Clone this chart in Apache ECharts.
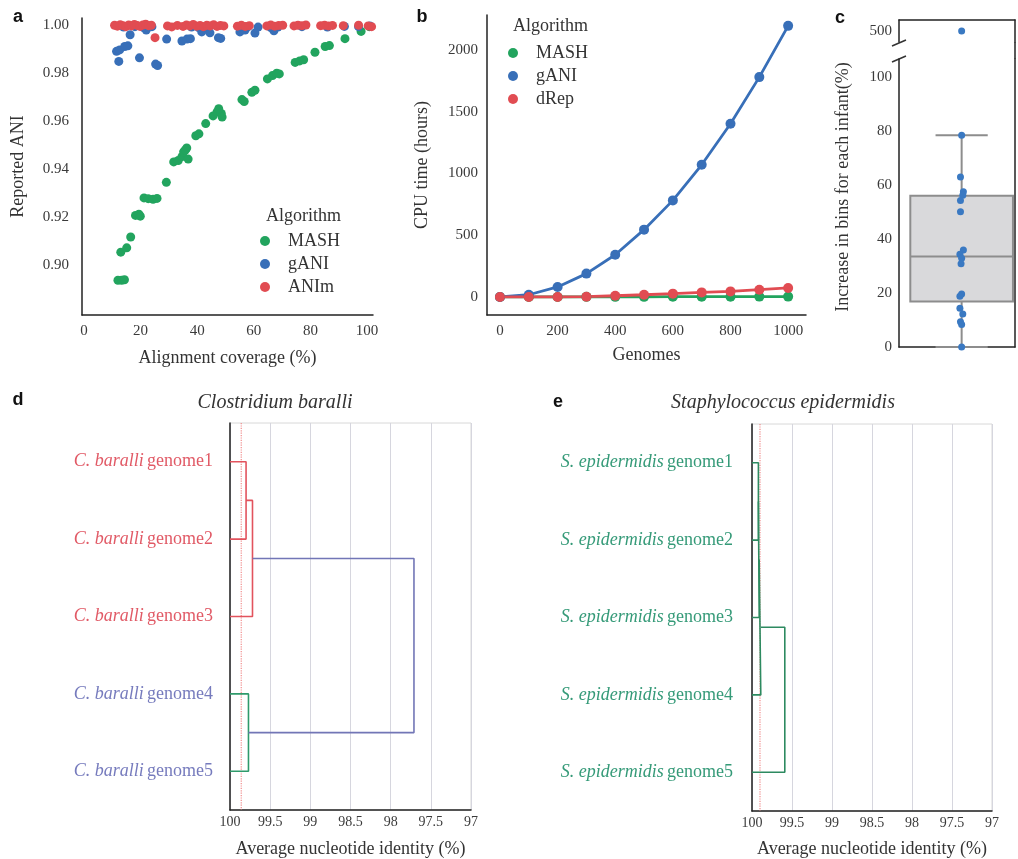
<!DOCTYPE html>
<html>
<head>
<meta charset="utf-8">
<script src="https://cdn.jsdelivr.net/npm/echarts@6/dist/echarts.min.js"></script>
<style>
  html, body { margin: 0; background: #fff; }
  #main { width: 1018px; height: 859px; }
</style>
</head>
<body>
<div id="main"></div>
<script>
// a: reported ANI vs alignment coverage
var mashCov = [12.0, 13.3, 14.3, 13.0, 15.1, 16.5, 18.2, 19.4, 19.9, 21.2, 22.7, 24.4, 25.8, 29.1,
  31.7, 33.3, 34.6, 35.2, 36.3, 36.8, 35.8, 39.5, 40.6, 43.0, 45.6, 47.0, 48.5, 47.6, 48.8,
  55.8, 56.6, 59.3, 60.4, 64.8, 66.6, 68.1, 69.0, 74.6, 76.2, 77.6, 81.6, 85.2, 86.7, 92.2, 97.9, 100.8];
var mashAni = [0.8935, 0.8935, 0.8937, 0.9052, 0.9070, 0.9115, 0.9205, 0.9210, 0.9202, 0.9278, 0.9275, 0.9272, 0.9276, 0.9343,
  0.9428, 0.9434, 0.9450, 0.9470, 0.9486, 0.9440, 0.9478, 0.9537, 0.9545, 0.9588, 0.9620, 0.9636, 0.9630, 0.9650, 0.9615,
  0.9688, 0.9680, 0.9718, 0.9727, 0.9774, 0.9788, 0.9798, 0.9795, 0.9843, 0.9849, 0.9854, 0.9885, 0.9909, 0.9913, 0.9942, 0.9972, 0.9992];
var ganiCov = [11.5, 12.6, 14.4, 15.5, 12.3, 16.3, 19.6, 25.3, 26.0, 22.0, 29.2, 34.6, 36.4, 37.6, 41.6, 44.5, 47.5, 48.3,
  55.1, 56.9, 60.4, 67.1, 14.0, 18.0, 21.0, 24.0, 38.0, 40.5, 43.0, 58.0, 61.5, 66.0, 68.5, 77.0, 86.0, 92.0, 97.0, 101.0];
var ganiAni = [0.9889, 0.9895, 0.9909, 0.9912, 0.9847, 0.9958, 0.9862, 0.9836, 0.9830, 0.9978, 0.9940, 0.9932, 0.9940, 0.9942,
  0.9970, 0.9966, 0.9946, 0.9943, 0.9970, 0.9978, 0.9965, 0.9975, 0.9990, 0.9992, 0.9988, 0.9992, 0.9990, 0.9988, 0.9990,
  0.9992, 0.9990, 0.9988, 0.9990, 0.9992, 0.9990, 0.9993, 0.9992, 0.9995];
var animCov = [10.8, 11.8, 12.8, 13.8, 14.8, 15.8, 16.8, 17.8, 18.8, 19.8, 20.8, 21.8, 22.8, 23.8, 25.1,
  29.5, 31.0, 33.0, 35.0, 36.2, 37.4, 38.6, 39.8, 41.0, 42.2, 43.4, 44.6, 45.8, 47.0, 48.2, 49.4,
  54.2, 55.6, 57.0, 58.4, 64.6, 66.0, 67.4, 68.8, 70.2, 74.2, 75.6, 77.0, 78.4, 83.6, 85.0, 86.4, 87.8, 91.6, 97.0, 100.4, 101.6];
var animAni = [0.9998, 0.9994, 1.0000, 0.9996, 0.9992, 0.9999, 0.9995, 1.0001, 0.9997, 0.9993, 0.9999, 1.0002, 0.9996, 0.9998, 0.9946,
  0.9995, 0.9991, 0.9997, 0.9993, 0.9999, 0.9995, 1.0001, 0.9994, 0.9997, 0.9992, 0.9998, 0.9995, 1.0000, 0.9993, 0.9997, 0.9995,
  0.9994, 0.9998, 0.9993, 0.9996, 0.9995, 0.9999, 0.9994, 0.9997, 0.9998, 0.9995, 0.9998, 0.9996, 0.9999, 0.9996, 0.9998, 0.9995, 0.9997, 0.9996, 0.9998, 0.9995, 0.9992];
var covTicks = [0, 20, 40, 60, 80, 100];
var aniTicks = [0.90, 0.92, 0.94, 0.96, 0.98, 1.00];

// b: CPU time vs genomes
var genomeCounts = [0, 100, 200, 300, 400, 500, 600, 700, 800, 900, 1000];
var mashHours = [0, 0, 0, 1, 1, 1, 2, 2, 2, 3, 3];
var ganiHours = [0, 18, 81, 189, 342, 545, 782, 1070, 1402, 1780, 2195];
var drepHours = [0, 0, 0, 2, 10, 18, 27, 37, 45, 59, 73];
var genomeTicks = [0, 200, 400, 600, 800, 1000];
var hourTicks = [0, 500, 1000, 1500, 2000];

// c: increase in bins per infant
var binIncrease = [500, 78.3, 62.9, 57.4, 56.1, 54.2, 50.0, 35.9, 34.3, 32.8, 30.8, 19.6, 18.8, 14.3, 12.2, 9.3, 8.3, 0];
var binJitter = [0, 0, -0.02, 0.03, 0.02, -0.02, -0.02, 0.03, -0.03, 0, -0.01, 0, -0.03, -0.03, 0.02, -0.02, 0, 0];
var binBox = [0, 16.8, 33.5, 55.9, 78.3]; // min, q1, median, q3, max
var binTicks = [0, 20, 40, 60, 80, 100];

// d / e: dendrograms
var leafPos = [5, 15, 25, 35, 45];
var genomeNames = ['genome1', 'genome2', 'genome3', 'genome4', 'genome5'];
var dLeafGroup = ['r', 'r', 'r', 'b', 'b'];
var dLinkAni = [[100, 99.80, 99.80, 100], [99.80, 99.72, 99.72, 100], [100, 99.77, 99.77, 100], [99.72, 97.71, 97.71, 99.77]];
var dLinkPos = [[5, 5, 15, 15], [10, 10, 25, 25], [35, 35, 45, 45], [17.5, 17.5, 40, 40]];
var dLinkColor = ['#e2535d', '#e2535d', '#2f9a6b', '#7276b6'];
var dCutoff = 99.86;
var eLinkAni = [[100, 99.92, 99.92, 100], [99.92, 99.91, 99.91, 100], [99.91, 99.89, 99.89, 100], [99.89, 99.59, 99.59, 100]];
var eLinkPos = [[5, 5, 15, 15], [10, 10, 25, 25], [17.5, 17.5, 35, 35], [26.25, 26.25, 45, 45]];
var eCutoff = 99.9;

var SERIF = '"Liberation Serif", "DejaVu Serif", serif';
var GREEN = '#22a45e', BLUE = '#386fb8', RED = '#e14c52';

function pairs(xs, ys) { return xs.map(function (x, i) { return [x, ys[i]]; }); }
function plain(v) { return String(v); }

function tickStyle(size, margin) {
  return { fontFamily: SERIF, fontSize: size, color: '#3a3a3a', margin: margin };
}
function nameStyle() { return { fontFamily: SERIF, fontSize: 18, color: '#333' }; }
var darkLine = { show: true, onZero: false, lineStyle: { color: '#222', width: 1.5 } };

function linkSeries(aniRows, posRows, colors, idx) {
  return aniRows.map(function (row, i) {
    return {
      type: 'line', xAxisIndex: idx, yAxisIndex: idx, symbol: 'none', silent: true,
      data: row.map(function (a, j) { return [a, posRows[i][j]]; }),
      lineStyle: { color: colors[i], width: 1.6 }
    };
  });
}
function cutoffSeries(v, idx) {
  return {
    type: 'line', xAxisIndex: idx, yAxisIndex: idx, symbol: 'none', silent: true,
    data: [[v, 0], [v, 50]], lineStyle: { color: '#f08c8c', width: 1.2, type: 'dotted' }
  };
}
function letter(t, x, y) {
  return { type: 'text', x: x, y: y, style: { text: t, fontFamily: 'Liberation Sans', fontWeight: 'bold', fontSize: 18,
    fill: '#111', align: 'center', verticalAlign: 'middle' } };
}

var chartDom = document.getElementById('main');
var myChart = echarts.init(chartDom);

var upperBins = [], lowerBins = [];
binIncrease.forEach(function (v, i) {
  (v > 200 ? upperBins : lowerBins).push([binJitter[i], v]);
});

var option = {
  animation: false,
  grid: [
    { left: 82, top: 18, width: 291, height: 297, outerBoundsMode: 'none' },
    { left: 487, top: 15, width: 319, height: 300, outerBoundsMode: 'none' },
    { left: 899, top: 59, width: 116, height: 288, outerBoundsMode: 'none' },
    { left: 899, top: 20, width: 116, height: 22, outerBoundsMode: 'none' },
    { left: 230, top: 423, width: 241, height: 387, show: true, borderColor: '#d8d8d8', borderWidth: 1, outerBoundsMode: 'none' },
    { left: 752, top: 424, width: 240, height: 387, show: true, borderColor: '#d8d8d8', borderWidth: 1, outerBoundsMode: 'none' }
  ],
  xAxis: [
    { gridIndex: 0, type: 'value', min: -0.7, max: 102.1, axisLine: darkLine, axisTick: { show: false }, splitLine: { show: false },
      axisLabel: Object.assign({ customValues: covTicks }, tickStyle(15, 9)),
      name: 'Alignment coverage (%)', nameLocation: 'middle', nameGap: 34, nameTextStyle: nameStyle() },
    { gridIndex: 1, type: 'value', min: -45, max: 1062, axisLine: darkLine, axisTick: { show: false }, splitLine: { show: false },
      axisLabel: Object.assign({ customValues: genomeTicks, formatter: plain }, tickStyle(15, 9)),
      name: 'Genomes', nameLocation: 'middle', nameGap: 31, nameTextStyle: nameStyle() },
    { gridIndex: 2, type: 'value', min: -1.08, max: 0.92, axisLine: darkLine, axisTick: { show: false },
      splitLine: { show: false }, axisLabel: { show: false } },
    { gridIndex: 3, type: 'value', min: -1.08, max: 0.92, position: 'top', axisLine: darkLine, axisTick: { show: false },
      splitLine: { show: false }, axisLabel: { show: false } },
    { gridIndex: 4, type: 'value', min: 97, max: 100, interval: 0.5, inverse: true, axisLine: darkLine, axisTick: { show: false },
      splitLine: { show: true, lineStyle: { color: '#d6d6de', width: 1 } },
      axisLabel: Object.assign({ formatter: plain }, tickStyle(14, 5)),
      name: 'Average nucleotide identity (%)', nameLocation: 'middle', nameGap: 30, nameTextStyle: nameStyle() },
    { gridIndex: 5, type: 'value', min: 97, max: 100, interval: 0.5, inverse: true, axisLine: darkLine, axisTick: { show: false },
      splitLine: { show: true, lineStyle: { color: '#d6d6de', width: 1 } },
      axisLabel: Object.assign({ formatter: plain }, tickStyle(14, 5)),
      name: 'Average nucleotide identity (%)', nameLocation: 'middle', nameGap: 29, nameTextStyle: nameStyle() }
  ],
  yAxis: [
    { gridIndex: 0, type: 'value', min: 0.879, max: 1.0028, axisLine: darkLine, axisTick: { show: false }, splitLine: { show: false },
      axisLabel: Object.assign({ customValues: aniTicks, formatter: function (v) { return v.toFixed(2); } }, tickStyle(15, 13)),
      name: 'Reported ANI', nameLocation: 'middle', nameGap: 55, nameTextStyle: nameStyle() },
    { gridIndex: 1, type: 'value', min: -146, max: 2283, axisLine: darkLine, axisTick: { show: false }, splitLine: { show: false },
      axisLabel: Object.assign({ customValues: hourTicks, formatter: plain }, tickStyle(15, 9)),
      name: 'CPU time (hours)', nameLocation: 'middle', nameGap: 56, nameTextStyle: nameStyle() },
    { gridIndex: 2, type: 'value', min: 0, max: 106.5, axisLine: darkLine, axisTick: { show: false }, splitLine: { show: false },
      axisLabel: Object.assign({ customValues: binTicks, formatter: plain }, tickStyle(15, 7)) },
    { gridIndex: 3, type: 'value', min: 495.93, max: 504.07, axisLine: darkLine, axisTick: { show: false }, splitLine: { show: false },
      axisLabel: Object.assign({ customValues: [500], formatter: plain }, tickStyle(15, 7)) },
    { gridIndex: 4, type: 'value', min: 0, max: 50, inverse: true, axisLine: darkLine, axisTick: { show: false }, splitLine: { show: false },
      axisLabel: {
        customValues: leafPos, margin: 17,
        formatter: function (v) {
          var i = leafPos.indexOf(v), g = dLeafGroup[i];
          return '{' + g + 'i|C. baralli} {' + g + 'n|' + genomeNames[i] + '}';
        },
        rich: {
          ri: { fontFamily: SERIF, fontSize: 18, fontStyle: 'italic', color: '#e15a66' },
          rn: { fontFamily: SERIF, fontSize: 18, color: '#e15a66' },
          bi: { fontFamily: SERIF, fontSize: 18, fontStyle: 'italic', color: '#767bbd' },
          bn: { fontFamily: SERIF, fontSize: 18, color: '#767bbd' }
        }
      } },
    { gridIndex: 5, type: 'value', min: 0, max: 50, inverse: true, axisLine: darkLine, axisTick: { show: false }, splitLine: { show: false },
      axisLabel: {
        customValues: leafPos, margin: 19,
        formatter: function (v) {
          var i = leafPos.indexOf(v);
          return '{gi|S. epidermidis} {gn|' + genomeNames[i] + '}';
        },
        rich: {
          gi: { fontFamily: SERIF, fontSize: 18, fontStyle: 'italic', color: '#359a78' },
          gn: { fontFamily: SERIF, fontSize: 18, color: '#359a78' }
        }
      } },
    { gridIndex: 2, type: 'value', position: 'right', min: 0, max: 106.5, axisLine: darkLine, axisTick: { show: false },
      splitLine: { show: false }, axisLabel: { show: false } },
    { gridIndex: 3, type: 'value', position: 'right', min: 495.93, max: 504.07, axisLine: darkLine, axisTick: { show: false },
      splitLine: { show: false }, axisLabel: { show: false } }
  ],
  legend: [
    { data: ['MASH', 'gANI', 'ANIm'], left: 260, top: 232, orient: 'vertical', icon: 'circle', itemWidth: 10, itemHeight: 10,
      itemGap: 5, padding: 0, textStyle: { fontFamily: SERIF, fontSize: 18, color: '#333', lineHeight: 17, padding: [0, 0, 0, 13] } },
    { data: ['MASH', 'gANI', 'dRep'], left: 508, top: 44, orient: 'vertical', icon: 'circle', itemWidth: 10, itemHeight: 10,
      itemGap: 5, padding: 0, textStyle: { fontFamily: SERIF, fontSize: 18, color: '#333', lineHeight: 17, padding: [0, 0, 0, 13] } }
  ],
  graphic: [
    letter('a', 18, 17), letter('b', 422, 17), letter('c', 840, 18), letter('d', 18, 400), letter('e', 558, 402),
    { type: 'text', x: 266, y: 216, style: { text: 'Algorithm', fontFamily: SERIF, fontSize: 18, fill: '#333', align: 'left', verticalAlign: 'middle' } },
    { type: 'text', x: 513, y: 26, style: { text: 'Algorithm', fontFamily: SERIF, fontSize: 18, fill: '#333', align: 'left', verticalAlign: 'middle' } },
    { type: 'text', x: 275, y: 403, style: { text: 'Clostridium baralli', fontFamily: SERIF, fontStyle: 'italic', fontSize: 20, fill: '#333', align: 'center', verticalAlign: 'middle' } },
    { type: 'text', x: 783, y: 403, style: { text: 'Staphylococcus epidermidis', fontFamily: SERIF, fontStyle: 'italic', fontSize: 20, fill: '#333', align: 'center', verticalAlign: 'middle' } },
    { type: 'text', x: 843, y: 187, rotation: Math.PI / 2, style: { text: 'Increase in bins for each infant(%)', fontFamily: SERIF, fontSize: 18, fill: '#333', align: 'center', verticalAlign: 'middle' } },
    { type: 'line', shape: { x1: 892, y1: 46, x2: 906, y2: 40 }, style: { stroke: '#333', lineWidth: 1.5 } },
    { type: 'line', shape: { x1: 892, y1: 62, x2: 906, y2: 56 }, style: { stroke: '#333', lineWidth: 1.5 } },
    { type: 'line', shape: { x1: 1015, y1: 42, x2: 1015, y2: 59 }, style: { stroke: '#222', lineWidth: 1.5 } }
  ],
  series: [
    { name: 'MASH', type: 'scatter', xAxisIndex: 0, yAxisIndex: 0, symbolSize: 9, itemStyle: { color: GREEN, opacity: 1 }, data: pairs(mashCov, mashAni) },
    { name: 'gANI', type: 'scatter', xAxisIndex: 0, yAxisIndex: 0, symbolSize: 9, itemStyle: { color: BLUE, opacity: 1 }, data: pairs(ganiCov, ganiAni) },
    { name: 'ANIm', type: 'scatter', xAxisIndex: 0, yAxisIndex: 0, symbolSize: 9, itemStyle: { color: RED, opacity: 1 }, data: pairs(animCov, animAni) },

    { name: 'MASH', type: 'line', xAxisIndex: 1, yAxisIndex: 1, symbol: 'circle', symbolSize: 10, lineStyle: { width: 2.8, color: GREEN },
      itemStyle: { color: GREEN }, data: pairs(genomeCounts, mashHours) },
    { name: 'gANI', type: 'line', xAxisIndex: 1, yAxisIndex: 1, symbol: 'circle', symbolSize: 10, lineStyle: { width: 2.8, color: BLUE },
      itemStyle: { color: BLUE }, data: pairs(genomeCounts, ganiHours) },
    { name: 'dRep', type: 'line', xAxisIndex: 1, yAxisIndex: 1, symbol: 'circle', symbolSize: 10, lineStyle: { width: 2.8, color: RED },
      itemStyle: { color: RED }, data: pairs(genomeCounts, drepHours) },

    { type: 'custom', xAxisIndex: 2, yAxisIndex: 2, silent: true,
      data: [[0].concat(binBox)],
      encode: { x: 0, y: [1, 2, 3, 4, 5] },
      renderItem: function (params, api) {
        var c = api.value(0), boxHalf = 0.885, capHalf = 0.45;
        var lo = api.coord([c - boxHalf, api.value(2)]);
        var hi = api.coord([c + boxHalf, api.value(4)]);
        var mL = api.coord([c - boxHalf, api.value(3)]);
        var mR = api.coord([c + boxHalf, api.value(3)]);
        var wMin = api.coord([c, api.value(1)]);
        var wMax = api.coord([c, api.value(5)]);
        var cL = api.coord([c - capHalf, 0])[0], cR = api.coord([c + capHalf, 0])[0];
        var st = { stroke: '#8d8d8d', lineWidth: 2 };
        return { type: 'group', children: [
          { type: 'line', shape: { x1: wMax[0], y1: wMax[1], x2: wMax[0], y2: hi[1] }, style: st },
          { type: 'line', shape: { x1: wMin[0], y1: wMin[1], x2: wMin[0], y2: lo[1] }, style: st },
          { type: 'line', shape: { x1: cL, y1: wMax[1], x2: cR, y2: wMax[1] }, style: st },
          { type: 'line', shape: { x1: cL, y1: wMin[1], x2: cR, y2: wMin[1] }, style: st },
          { type: 'rect', shape: { x: lo[0], y: hi[1], width: hi[0] - lo[0], height: lo[1] - hi[1] },
            style: { fill: '#d9d9db', stroke: '#8d8d8d', lineWidth: 2 } },
          { type: 'line', shape: { x1: mL[0], y1: mL[1], x2: mR[0], y2: mR[1] }, style: st }
        ] };
      } },
    { type: 'scatter', xAxisIndex: 2, yAxisIndex: 2, symbolSize: 7, itemStyle: { color: '#3a79c2', opacity: 1 }, data: lowerBins },
    { type: 'scatter', xAxisIndex: 3, yAxisIndex: 3, symbolSize: 7, itemStyle: { color: '#3a79c2', opacity: 1 }, data: upperBins },

    cutoffSeries(dCutoff, 4),
    cutoffSeries(eCutoff, 5)
  ]
    .concat(linkSeries(dLinkAni, dLinkPos, dLinkColor, 4))
    .concat(linkSeries(eLinkAni, eLinkPos, ['#2d8a60', '#2d8a60', '#2d8a60', '#2d8a60'], 5))
};

option && myChart.setOption(option);
</script>
</body>
</html>
